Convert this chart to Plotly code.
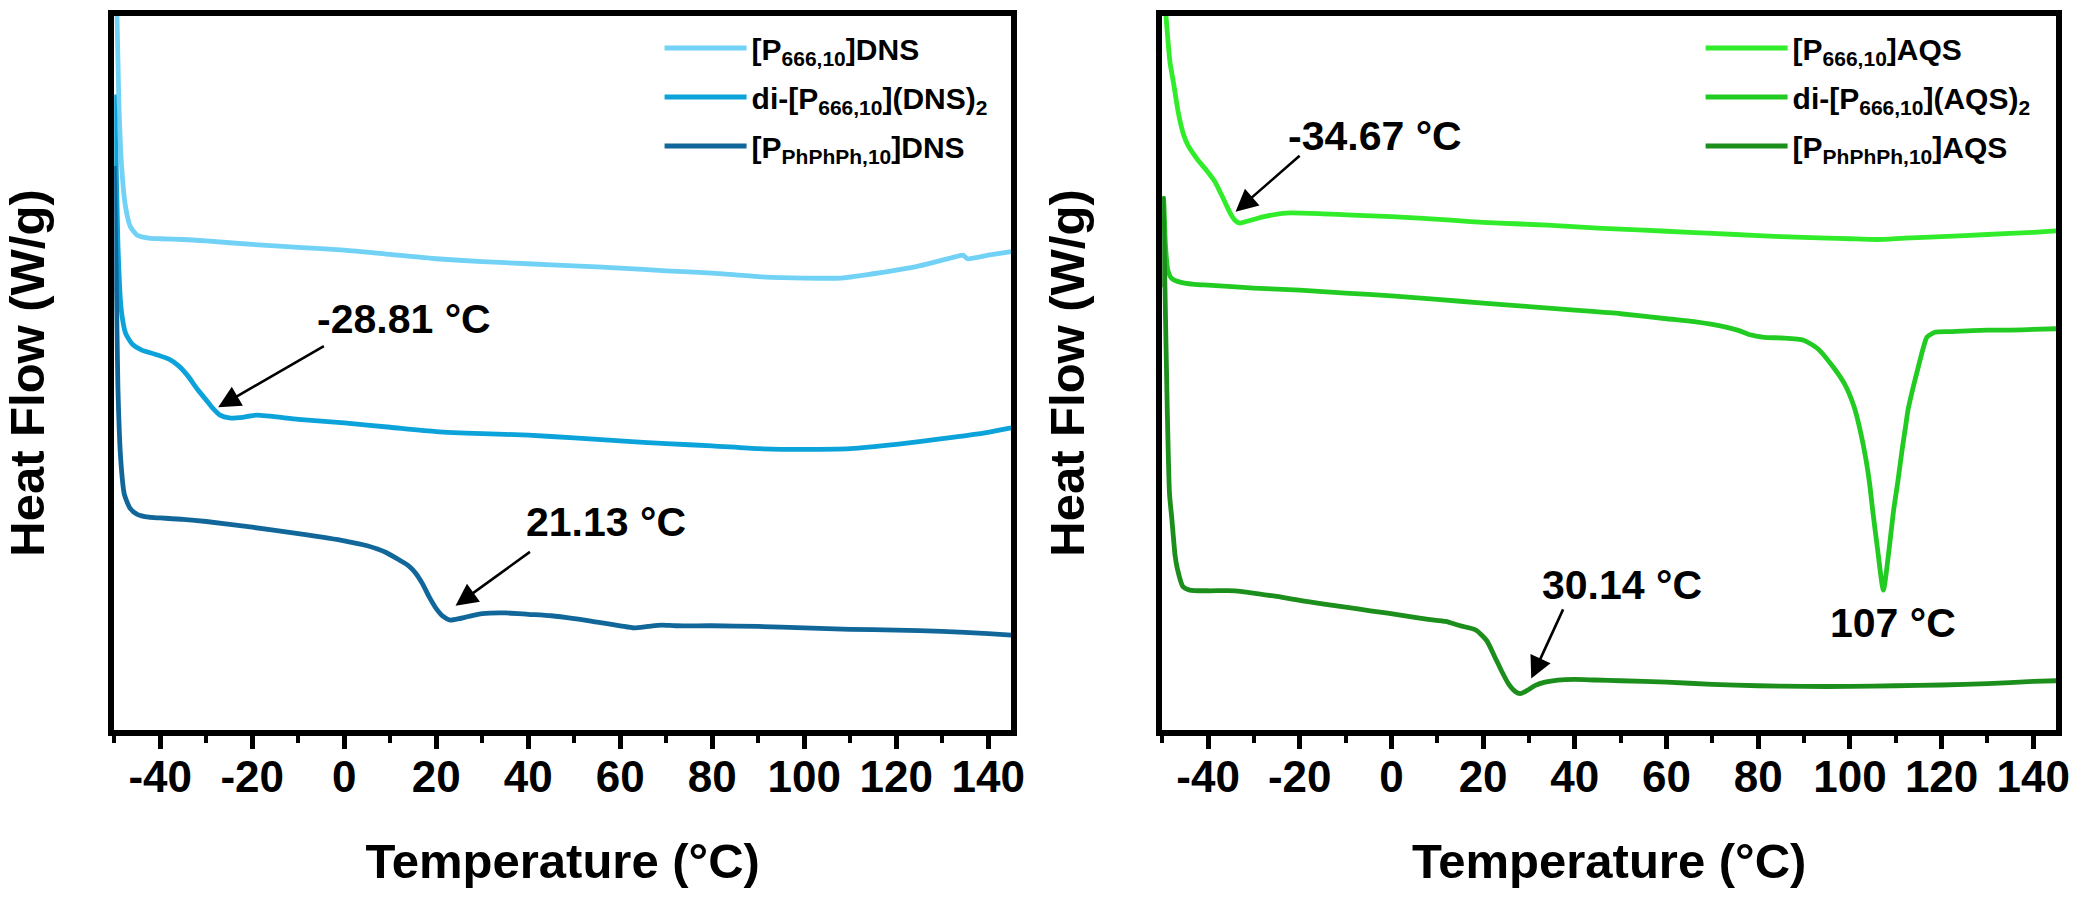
import plotly.graph_objects as go

# ---------------- data (temperature in °C, heat flow in arbitrary units) ----------------
t_dns1 = [-49.8, -49.4, -49.0, -48.4, -47.6, -46.5, -45.0, -42.5, -40, -35, -30, -20, -10, 0, 10, 20, 30,
          40, 50, 60, 70, 80, 90, 100, 108, 115, 120, 125, 130, 133, 134.5, 135.5, 140, 145]
y_dns1 = [105, 100, 88, 79, 73.5, 70.5, 69.3, 68.9, 68.8, 68.7, 68.5, 68.0, 67.6, 67.2, 66.6, 66.0, 65.6,
          65.3, 65.0, 64.7, 64.3, 64.0, 63.5, 63.3, 63.3, 63.9, 64.4, 65.0, 65.8, 66.3, 66.5, 66.0, 66.5, 67.0]

t_dns2 = [-50, -49.6, -49.2, -48.5, -47.5, -46, -44, -41, -38, -36, -34, -32, -30, -28.5, -27, -25, -22, -19,
          -10, 0, 10, 20, 30, 40, 50, 60, 70, 80, 90, 100, 110, 120, 130, 140, 145]
y_dns2 = [89, 80, 68, 59, 55.5, 54, 53.2, 52.6, 51.9, 51.0, 49.6, 47.8, 46.2, 45.0, 44.1, 43.7, 43.8, 44.1,
          43.5, 43.0, 42.4, 41.8, 41.5, 41.3, 40.9, 40.5, 40.1, 39.8, 39.4, 39.3, 39.4, 40.0, 40.8, 41.7, 42.3]

t_dns3 = [-50, -49.6, -49.2, -48.6, -47.8, -46.5, -45, -42.5, -40, -35, -30, -20, -10, 0, 5, 9, 12, 14, 15.5,
          17, 18.5, 20, 21.5, 23, 25, 27, 30, 35, 40, 45, 50, 55, 60, 63, 66, 69, 72, 80, 90, 100, 110, 120,
          130, 140, 145]
y_dns3 = [79, 65, 48, 38, 33, 31, 30.2, 29.8, 29.7, 29.5, 29.2, 28.4, 27.5, 26.5, 25.8, 24.9, 23.8, 23.0, 22.0,
          20.5, 18.6, 17.0, 15.9, 15.4, 15.6, 15.9, 16.3, 16.4, 16.2, 16.0, 15.6, 15.1, 14.6, 14.3, 14.5, 14.7,
          14.6, 14.6, 14.5, 14.3, 14.1, 14.0, 13.8, 13.5, 13.3]

t_aqs1 = [-49.3, -48.8, -48.3, -47.5, -46.5, -45.4, -44.4, -42.3, -40.1, -38.5, -37.1, -36, -35, -34, -33,
          -31.5, -29.5, -27.8, -23, -15, -8.5, 0, 6, 13, 20, 27, 34, 45, 55, 65, 75, 85, 95, 100, 106, 112,
          120, 130, 140, 145]
y_aqs1 = [101, 97, 93.5, 90.5, 86.5, 83.5, 81.9, 79.9, 78.2, 76.8, 75.0, 73.5, 72.2, 71.3, 71.0, 71.25, 71.6,
          71.9, 72.4, 72.3, 72.1, 71.9, 71.7, 71.4, 71.1, 70.9, 70.7, 70.3, 70.0, 69.7, 69.4, 69.1, 68.9, 68.8,
          68.7, 68.9, 69.1, 69.4, 69.7, 69.9]

t_aqs2 = [-50, -49.7, -49.3, -48.8, -48, -46.5, -43, -40, -30, -20, -10, 0, 10, 20, 30, 40, 50, 60, 66, 70,
          75.5, 78, 81.3, 85, 89.9, 93, 96.4, 98.8, 100.9, 102.3, 103.5, 104.3, 105, 106, 107.3, 108.4, 109.5,
          110.5, 111.4, 112.1, 112.7, 113.8, 114.9, 116, 116.8, 118.5, 122, 130, 135, 140, 145]
y_aqs2 = [70, 74.5, 68, 64.5, 63.3, 62.8, 62.4, 62.3, 61.9, 61.6, 61.2, 60.8, 60.3, 59.8, 59.3, 58.8, 58.3,
          57.6, 57.2, 56.8, 56.0, 55.4, 55.0, 54.9, 54.6, 53.4, 50.8, 48.5, 45.3, 41.8, 37.9, 34.5, 30.6, 25.5,
          19.6, 24.5, 30.6, 35.0, 39.3, 42.3, 44.9, 48.0, 50.8, 53.5, 55.0, 55.7, 55.8, 56.0, 56.0, 56.1, 56.2]

t_aqs3 = [-50, -49.8, -49.4, -48.9, -48.4, -47.9, -47.2, -46.7, -45.5, -44, -40, -34, -25, -18.6, -10, -4.6,
          3, 8, 11.8, 15, 18.4, 20.8, 22.5, 24, 25.5, 27, 28.1, 29.5, 31.4, 33.5, 36.3, 40, 44.5, 50, 60, 70,
          80, 90, 100, 110, 120, 130, 140, 145]
y_aqs3 = [62, 74.4, 62, 45, 33, 29.6, 24.5, 22.6, 20.1, 19.6, 19.5, 19.5, 18.7, 18.0, 17.2, 16.7, 16.0, 15.5,
          15.2, 14.6, 14.0, 12.5, 10.3, 8.3, 6.5, 5.4, 5.1, 5.5, 6.25, 6.7, 7.0, 7.1, 7.0, 6.9, 6.7, 6.4, 6.2,
          6.1, 6.1, 6.2, 6.3, 6.5, 6.8, 6.9]

names_left = ["[P<sub>666,10</sub>]DNS", "di-[P<sub>666,10</sub>](DNS)<sub>2</sub>",
              "[P<sub>PhPhPh,10</sub>]DNS"]
names_right = ["[P<sub>666,10</sub>]AQS", "di-[P<sub>666,10</sub>](AQS)<sub>2</sub>",
               "[P<sub>PhPhPh,10</sub>]AQS"]
colors_left = ["#72D2F6", "#0BA3DA", "#12679A"]
colors_right = ["#30EC2A", "#22CB22", "#1C8E1C"]

x_ticks = [-40, -20, 0, 20, 40, 60, 80, 100, 120, 140]
x_ticktext = ["-40", "-20", "0", "20", "40", "60", "80", "100", "120", "140"]
x_range = [-50, 145]
y_range = [0, 100]

# annotations: (text, text_x, text_y)  and arrows: (tail_x, tail_y, tip_x, tip_y)
labels_left = [("-28.81 °C", 12.9, 57.6), ("21.13 °C", 56.8, 29.2)]
arrows_left = [(-4.1, 53.9, -27.4, 45.2), (40.7, 25.1, 24.2, 17.4)]
labels_right = [("-34.67 °C", -3.5, 83.2), ("30.14 °C", 50.3, 20.3), ("107 °C", 109.3, 15.0)]
arrows_right = [(-19.7, 80.6, -34.0, 72.6), (37.6, 17.1, 30.5, 7.2)]

# ---------------- figure ----------------
FONT = "Liberation Sans"
W, H = 2100, 905
fig = go.Figure()

left_series = [(t_dns1, y_dns1), (t_dns2, y_dns2), (t_dns3, y_dns3)]
right_series = [(t_aqs1, y_aqs1), (t_aqs2, y_aqs2), (t_aqs3, y_aqs3)]

for i, (t, y) in enumerate(left_series):
    fig.add_trace(go.Scatter(x=t, y=y, mode="lines", name=names_left[i],
                             line=dict(color=colors_left[i], width=4.8, shape="spline", smoothing=0.6),
                             xaxis="x", yaxis="y", legend="legend", legendgroup="l%d" % i))
for i, (t, y) in enumerate(right_series):
    fig.add_trace(go.Scatter(x=t, y=y, mode="lines", name=names_right[i],
                             line=dict(color=colors_right[i], width=4.8, shape="spline", smoothing=0.6),
                             xaxis="x2", yaxis="y2", legend="legend2", legendgroup="r%d" % i))

def px_x(p):
    return p / W

def px_y(p):
    return 1 - p / H

xdom_l = [px_x(115), px_x(1018)]
xdom_r = [px_x(1170), px_x(2070)]
ydom = [px_y(730), px_y(16)]

xaxis_common = dict(range=x_range, tickvals=x_ticks, ticktext=x_ticktext, ticks="outside", ticklen=13,
                    tickwidth=5, tickcolor="black", showline=True, linewidth=6, linecolor="black",
                    mirror=True, showgrid=False, zeroline=False, ticklabelstandoff=-10,
                    tickfont=dict(family=FONT, size=44, color="black", weight="bold"),
                    minor=dict(dtick=10, tick0=0, ticks="outside", ticklen=7, tickwidth=4, tickcolor="black"),
                    title=dict(text="Temperature (°C)", standoff=46,
                               font=dict(family=FONT, size=49, color="black", weight="bold")))
yaxis_common = dict(range=y_range, showticklabels=False, ticks="", showline=True, linewidth=6,
                    linecolor="black", mirror=True, showgrid=False, zeroline=False,
                    title=dict(text="Heat Flow (W/g)", standoff=58,
                               font=dict(family=FONT, size=49, color="black", weight="bold")))

legend_common = dict(font=dict(family=FONT, size=30, color="black", weight="bold"),
                     bgcolor="rgba(0,0,0,0)", borderwidth=0, itemwidth=82, tracegroupgap=7,
                     xanchor="left", yanchor="top")

fig.update_layout(
    width=W, height=H, margin=dict(l=0, r=0, t=0, b=0),
    paper_bgcolor="white", plot_bgcolor="white", showlegend=True,
    xaxis=dict(domain=xdom_l, anchor="y", **xaxis_common),
    yaxis=dict(domain=ydom, anchor="x", **yaxis_common),
    xaxis2=dict(domain=xdom_r, anchor="y2", **xaxis_common),
    yaxis2=dict(domain=ydom, anchor="x2", **yaxis_common),
    legend=dict(x=px_x(664), y=px_y(22), **legend_common),
    legend2=dict(x=px_x(1712), y=px_y(22), **legend_common),
)

ann = []
for (txt, tx, ty) in labels_left:
    ann.append(dict(x=tx, y=ty, xref="x", yref="y", text=txt, showarrow=False,
                    font=dict(family=FONT, size=41, color="black", weight="bold")))
for (txt, tx, ty) in labels_right:
    ann.append(dict(x=tx, y=ty, xref="x2", yref="y2", text=txt, showarrow=False,
                    font=dict(family=FONT, size=41, color="black", weight="bold")))
for (ax_, ay_, x_, y_) in arrows_left:
    ann.append(dict(x=x_, y=y_, ax=ax_, ay=ay_, xref="x", yref="y", axref="x", ayref="y", text="",
                    showarrow=True, arrowhead=2, arrowsize=1.7, arrowwidth=2.6, arrowcolor="black"))
for (ax_, ay_, x_, y_) in arrows_right:
    ann.append(dict(x=x_, y=y_, ax=ax_, ay=ay_, xref="x2", yref="y2", axref="x2", ayref="y2", text="",
                    showarrow=True, arrowhead=2, arrowsize=1.7, arrowwidth=2.6, arrowcolor="black"))
fig.update_layout(annotations=ann)

fig.write_html("out.html")
